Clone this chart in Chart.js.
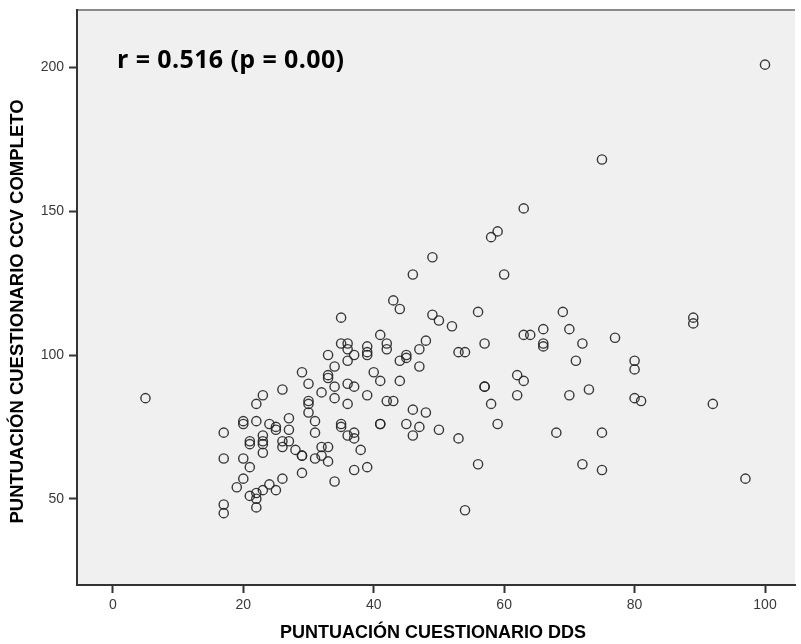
<!DOCTYPE html>
<html lang="es">
<head>
<meta charset="utf-8">
<title>DDS vs CCV</title>
<script src="https://cdn.jsdelivr.net/npm/chart.js@4.4.1/dist/chart.umd.min.js"></script>
<style>
    html, body { margin: 0; padding: 0; background: #ffffff; }
    #chartWrap { position: relative; width: 801px; height: 644px; }
</style>
</head>
<body>
<div id="chartWrap"><canvas id="scatterChart"></canvas></div>
<script>
// Puntuación DDS (x) y CCV completo (y), un par por participante
const ddsScores = [
    5,
    17, 17, 17, 17,
    19,
    20, 20, 20, 20,
    21, 21, 21, 21,
    22, 22, 22, 22, 22,
    23, 23, 23, 23, 23, 23,
    24, 24,
    25, 25, 25,
    26, 26, 26, 26,
    27, 27, 27,
    28,
    29, 29, 29, 29,
    30, 30, 30, 30,
    31, 31, 31,
    32, 32, 32,
    33, 33, 33, 33, 33,
    34, 34, 34, 34,
    35, 35, 35, 35,
    36, 36, 36, 36, 36, 36,
    37, 37, 37, 37, 37,
    38,
    39, 39, 39, 39, 39,
    40,
    41, 41, 41, 41,
    42, 42, 42,
    43, 43,
    44, 44, 44,
    45, 45, 45,
    46, 46, 46,
    47, 47, 47,
    48, 48,
    49, 49,
    50, 50,
    52,
    53, 53,
    54, 54,
    56, 56,
    57, 57, 57,
    58, 58,
    59, 59,
    60,
    62, 62,
    63, 63, 63,
    64,
    66, 66, 66,
    68,
    69,
    70, 70,
    71,
    72, 72,
    73,
    75, 75, 75,
    77,
    80, 80, 80,
    81,
    89, 89,
    92,
    97,
    100
];

const ccvScores = [
    85,
    73, 64, 48, 45,
    54,
    77, 76, 64, 57,
    70, 69, 61, 51,
    83, 77, 52, 50, 47,
    86, 72, 70, 69, 66, 53,
    76, 55,
    75, 74, 53,
    88, 70, 68, 57,
    78, 74, 70,
    67,
    94, 65, 65, 59,
    90, 84, 83, 80,
    77, 73, 64,
    87, 68, 65,
    100, 93, 92, 68, 63,
    96, 89, 85, 56,
    113, 104, 76, 75,
    104, 102, 98, 90, 83, 72,
    100, 89, 73, 71, 60,
    67,
    103, 101, 100, 86, 61,
    94,
    107, 91, 76, 76,
    104, 102, 84,
    119, 84,
    116, 98, 91,
    100, 99, 76,
    128, 81, 72,
    102, 96, 75,
    105, 80,
    134, 114,
    112, 74,
    110,
    101, 71,
    101, 46,
    115, 62,
    104, 89, 89,
    141, 83,
    143, 76,
    128,
    93, 86,
    151, 107, 91,
    107,
    109, 104, 103,
    73,
    115,
    109, 86,
    98,
    104, 62,
    88,
    168, 73, 60,
    106,
    98, 95, 85,
    84,
    113, 111,
    83,
    57,
    201
];

const xTickValues = [0, 20, 40, 60, 80, 100];
const yTickValues = [50, 100, 150, 200];

const xAxisLabel = 'PUNTUACIÓN CUESTIONARIO DDS';
const yAxisLabel = 'PUNTUACIÓN CUESTIONARIO CCV COMPLETO';
const correlationText = 'r = 0.516 (p = 0.00)';

const axisFont = "'Liberation Sans', Arial, sans-serif";
const inkColor = '#333333';

// Light grey plot panel with a thin top frame line, SPSS style
const panelPlugin = {
    id: 'panel',
    beforeDraw(chart) {
        const { ctx, chartArea } = chart;
        ctx.save();
        ctx.fillStyle = '#f0f0f0';
        ctx.fillRect(chartArea.left, chartArea.top, chartArea.right - chartArea.left, chartArea.bottom - chartArea.top);
        ctx.strokeStyle = '#8a8a8a';
        ctx.lineWidth = 2;
        ctx.beginPath();
        ctx.moveTo(chartArea.left, chartArea.top);
        ctx.lineTo(chartArea.right, chartArea.top);
        ctx.stroke();
        ctx.restore();
    }
};

// Axis titles: x under the tick labels, y rotated along the left edge
const axisTitlePlugin = {
    id: 'axisTitles',
    afterDraw(chart) {
        const { ctx, chartArea } = chart;
        ctx.save();
        ctx.fillStyle = '#000000';
        ctx.textAlign = 'center';
        ctx.textBaseline = 'middle';
        ctx.font = "bold 18px 'Liberation Sans', Arial, sans-serif";
        ctx.fillText(xAxisLabel, (chartArea.left + chartArea.right) / 2 - 3, chartArea.bottom + 48);

        ctx.font = "bold 18.5px 'Liberation Sans', Arial, sans-serif";
        ctx.translate(18, (chartArea.top + chartArea.bottom) / 2 + 14);
        ctx.rotate(-Math.PI / 2);
        ctx.fillText(yAxisLabel, 0, 0);
        ctx.restore();
    }
};

// Correlation note in the upper left corner of the panel
const notePlugin = {
    id: 'note',
    afterDatasetsDraw(chart) {
        const { ctx, chartArea } = chart;
        ctx.save();
        ctx.fillStyle = '#000000';
        ctx.font = "bold 25px 'Open Sans', Lato, sans-serif";
        ctx.letterSpacing = '0.4px';
        ctx.textAlign = 'left';
        ctx.textBaseline = 'alphabetic';
        ctx.fillText(correlationText, chartArea.left + 40, chartArea.top + 58);
        ctx.restore();
    }
};

function buildPoints() {
    return ddsScores.map((x, i) => ({ x: x, y: ccvScores[i] }));
}

function fixedTicks(values) {
    return function (scale) {
        scale.ticks = values.map(v => ({ value: v }));
    };
}

const ctx = document.getElementById('scatterChart');

new Chart(ctx, {
    type: 'scatter',
    data: {
        datasets: [{
            data: buildPoints(),
            pointStyle: 'circle',
            pointRadius: 4.6,
            pointHoverRadius: 4.6,
            borderWidth: 1.4,
            borderColor: 'rgba(35, 35, 35, 0.9)',
            backgroundColor: 'rgba(0, 0, 0, 0)'
        }]
    },
    options: {
        responsive: true,
        maintainAspectRatio: false,
        animation: false,
        layout: { padding: { top: 10, right: 0, left: 0, bottom: 0 } },
        scales: {
            x: {
                type: 'linear',
                min: -5.5,
                max: 104.6,
                afterBuildTicks: fixedTicks(xTickValues),
                afterFit(scale) {
                    scale.height = 59;
                    scale.paddingLeft = 0;
                    scale.paddingRight = 0;
                },
                border: { display: true, color: inkColor, width: 2 },
                grid: { drawOnChartArea: false, drawTicks: true, tickLength: 8, tickWidth: 2, color: inkColor },
                ticks: { color: '#3a3a3a', padding: 4, font: { family: axisFont, size: 14 } }
            },
            y: {
                type: 'linear',
                min: 20,
                max: 220,
                afterBuildTicks: fixedTicks(yTickValues),
                afterFit(scale) {
                    scale.width = 77;
                    scale.paddingTop = 0;
                    scale.paddingBottom = 0;
                },
                border: { display: true, color: inkColor, width: 2 },
                grid: { drawOnChartArea: false, drawTicks: true, tickLength: 8, tickWidth: 2, color: inkColor },
                ticks: { color: '#3a3a3a', padding: 5, font: { family: axisFont, size: 14 } }
            }
        },
        plugins: {
            legend: { display: false },
            tooltip: { enabled: false }
        }
    },
    plugins: [panelPlugin, axisTitlePlugin, notePlugin]
});
</script>
</body>
</html>
